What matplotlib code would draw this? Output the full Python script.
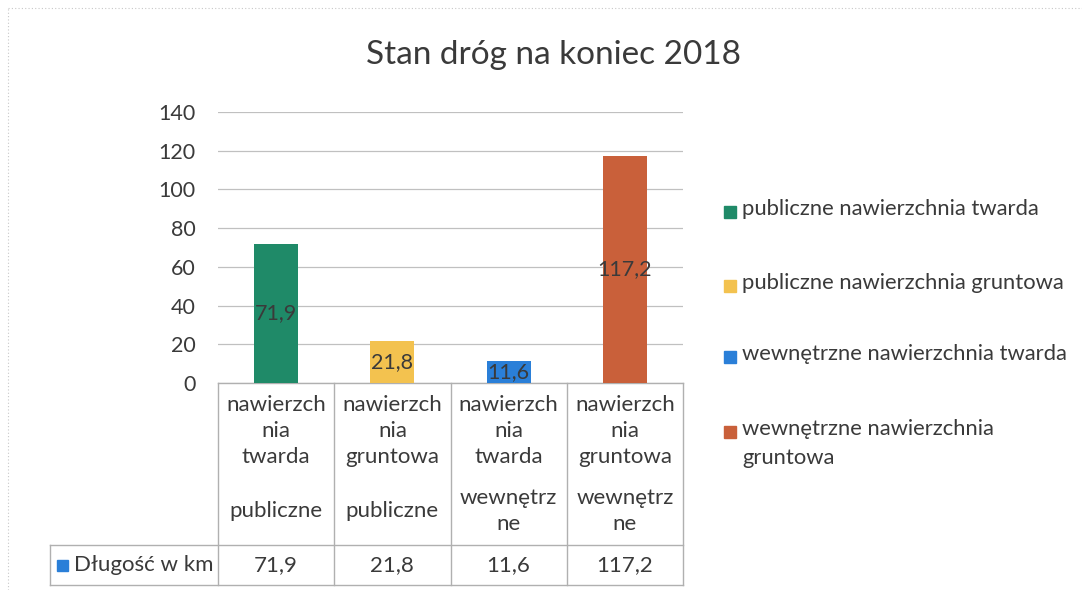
import matplotlib
matplotlib.use("Agg")
import matplotlib.pyplot as plt
from matplotlib.patches import Rectangle
from matplotlib.transforms import blended_transform_factory

plt.rcParams['font.family'] = ['Lato', 'DejaVu Sans']

title = "Stan dróg na koniec 2018"
inner_labels = ["nawierzch\nnia\ntwarda", "nawierzch\nnia\ngruntowa",
                "nawierzch\nnia\ntwarda", "nawierzch\nnia\ngruntowa"]
outer_labels = ["publiczne", "publiczne", "wewnętrz\nne", "wewnętrz\nne"]
values = [71.9, 21.8, 11.6, 117.2]
value_labels = ["71,9", "21,8", "11,6", "117,2"]
legend_labels = ["publiczne nawierzchnia twarda", "publiczne nawierzchnia gruntowa",
                 "wewnętrzne nawierzchnia twarda", "wewnętrzne nawierzchnia\ngruntowa"]
colors = ["#1f8a68", "#f3c24f", "#2a7fd8", "#c9603a"]
series_name = "Długość w km"
yticks = [0, 20, 40, 60, 80, 100, 120, 140]

W, H = 1082, 590
fig = plt.figure(figsize=(W / 100, H / 100), dpi=100)
fig.patch.set_facecolor("white")
TXT = "#3a3a3a"

def fx(px):
    return px / W

def fy(py):
    return 1 - py / H

ax = fig.add_axes([fx(218), fy(383), fx(683) - fx(218), fy(112) - fy(383)])
x = list(range(len(values)))
bars = ax.bar(x, values, width=0.38, color=colors, zorder=3)
ax.set_xlim(-0.5, len(values) - 0.5)
ax.set_ylim(0, 140)
ax.set_yticks(yticks)
ax.set_yticklabels([str(t) for t in yticks], fontsize=15.5, color=TXT)
ax.tick_params(axis="y", length=0, pad=16)
ax.set_xticks([])
for s in ax.spines.values():
    s.set_visible(False)
ax.grid(axis="y", color="#c0c0c0", lw=0.9, zorder=0)
ax.set_axisbelow(True)

for xi, v, lab in zip(x, values, value_labels):
    ax.text(xi, v / 2, lab, ha="center", va="center", fontsize=15.5, color=TXT, zorder=4)

fig.text(fx(553), fy(55), title, ha="center", va="center", fontsize=24, color=TXT)

# data table below the axis
tr = blended_transform_factory(ax.transData, fig.transFigure)
line_kw = dict(color="#b0b0b0", lw=1.0, clip_on=False)
n = len(values)
for b in range(n + 1):
    xb = b - 0.5
    ax.plot([xb, xb], [fy(383), fy(585)], transform=tr, **line_kw)
ax.plot([-0.5, n - 0.5], [fy(383), fy(383)], transform=tr, **line_kw)
ax.plot([fx(50), fx(683)], [fy(545), fy(545)], transform=fig.transFigure, **line_kw)
ax.plot([fx(50), fx(683)], [fy(585), fy(585)], transform=fig.transFigure, **line_kw)
ax.plot([fx(50), fx(50)], [fy(545), fy(585)], transform=fig.transFigure, **line_kw)

for xi, inner, outer, lab in zip(x, inner_labels, outer_labels, value_labels):
    ax.text(xi, fy(431), inner, transform=tr, ha="center", va="center",
            fontsize=16, color=TXT, linespacing=1.4)
    ax.text(xi, fy(511), outer, transform=tr, ha="center", va="center",
            fontsize=16, color=TXT, linespacing=1.35)
    ax.text(xi, fy(565), lab, transform=tr, ha="center", va="center",
            fontsize=16, color=TXT)

fig.add_artist(Rectangle((fx(57), fy(571)), fx(11), 11 / H, transform=fig.transFigure,
                         color=colors[2]))
fig.text(fx(74), fy(565), series_name, ha="left", va="center", fontsize=16, color=TXT)

# legend
leg_y = [212, 286, 357, 432]
for c, lab, yy in zip(colors, legend_labels, leg_y):
    fig.add_artist(Rectangle((fx(724), fy(yy + 6)), fx(12), 12 / H,
                             transform=fig.transFigure, color=c))
    fig.text(fx(742), fy(yy - 13), lab, ha="left", va="top",
             fontsize=15.8, color=TXT, linespacing=1.55)

# faint page border lines of the scan
fig.add_artist(plt.Line2D([fx(8), fx(8)], [0, fy(8)], transform=fig.transFigure,
                          color="#c8c8c8", lw=0.8, ls=(0, (1, 2))))
fig.add_artist(plt.Line2D([fx(8), 1], [fy(8), fy(8)], transform=fig.transFigure,
                          color="#c8c8c8", lw=0.8, ls=(0, (1, 2))))

fig.savefig("out.png", dpi=100, facecolor="white")
